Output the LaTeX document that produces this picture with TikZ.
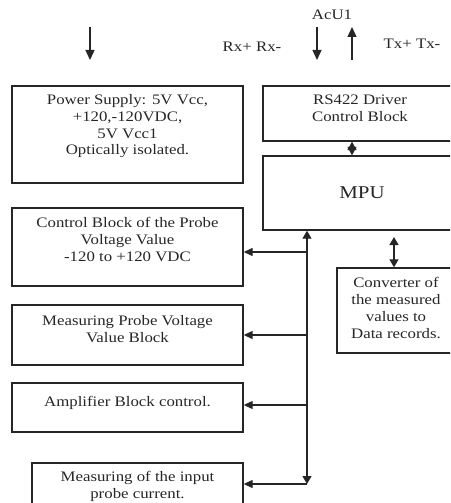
\documentclass[tikz,border=0pt]{standalone}
\usepackage{fontspec}
\setmainfont[FakeStretch=1.16]{Liberation Serif}
\usetikzlibrary{arrows.meta}
\definecolor{ink}{HTML}{262626}
\begin{document}
\begin{tikzpicture}[x=1pt,y=-1pt,
  blk/.style={draw=ink, line width=1.4pt, rectangle, inner sep=0pt},
  txt/.style={text=ink, align=center, inner sep=0pt, anchor=north,
    font=\fontsize{14.5}{16.7}\selectfont},
  lbl/.style={text=ink, inner sep=0pt, font=\fontsize{14.5}{16.7}\selectfont},
  wire/.style={draw=ink, line width=1.3pt},
  tip/.style={-{Triangle[length=9pt,width=8pt]}},
  bigtip/.style={-{Triangle[length=10pt,width=9pt]}},
  dtip/.style={{Triangle[length=8pt,width=9pt]}-{Triangle[length=8pt,width=9pt]}},
  knot/.style={{Triangle[length=8.5pt,width=9pt]}-{Triangle[length=8.5pt,width=9pt]}}
]
\path[use as bounding box] (0,0) rectangle (450,503);
\clip (0,0) rectangle (450,503);

% blocks
\node[blk, minimum width=231pt, minimum height=97pt] (ps)   at (127.5,134.5) {};
\node[blk, minimum width=194pt, minimum height=55pt] (rs)   at (360,113.5) {};
\node[blk, minimum width=198pt, minimum height=74pt] (mpu)  at (362,193) {};
\node[blk, minimum width=231pt, minimum height=78pt] (cb)   at (127.5,247) {};
\node[blk, minimum width=118pt, minimum height=85pt] (conv) at (396,310.5) {};
\node[blk, minimum width=231pt, minimum height=60pt] (mpv)  at (127.5,335) {};
\node[blk, minimum width=231pt, minimum height=49pt] (amp)  at (127.5,407.5) {};
\node[blk, minimum width=211pt, minimum height=52pt] (mic)  at (137.5,489) {};

% block texts
\node[txt] (ps-t) at (127.5,94.5) {Power Supply: 5V Vcc,\\+120,-120VDC,\\5V Vcc1\\Optically isolated.};
\node[txt] (rs-t) at (360,94.5) {RS422 Driver\\Control Block};
\node[text=ink, inner sep=0pt, font=\fontsize{18}{20}\selectfont] (mpu-t) at (362,193) {MPU};
\node[txt] (cb-t) at (127.5,217.5) {Control Block of the Probe\\Voltage Value\\-120 to +120 VDC};
\node[txt] (conv-t) at (396,277.5) {Converter of\\the measured\\values to\\Data records.};
\node[txt] (mpv-t) at (127.5,315.5) {Measuring Probe Voltage\\Value Block};
\node[txt] (amp-t) at (127.5,396.5) {Amplifier Block control.};
\node[txt] (mic-t) at (137.5,471.5) {Measuring of the input\\probe current.};

% external signals
\node[lbl] (acu) at (332,15) {AcU1};
\node[lbl] (rx) at (252,47) {Rx+ Rx-};
\node[lbl] (tx) at (412,44) {Tx+ Tx-};
\coordinate (pin-a) at (90,27);
\coordinate (pin-b) at (90,60);
\coordinate (rx-a) at (317,27);
\coordinate (rx-b) at (317,60);
\coordinate (tx-a) at (352,60);
\coordinate (tx-b) at (352,27);
\draw[wire, bigtip] (pin-a) -- (pin-b);
\draw[wire, bigtip] (rx-a) -- (rx-b);
\draw[wire, bigtip] (tx-a) -- (tx-b);

% driver <-> MPU
\draw[wire, knot] (rs.south -| 352,0) -- (mpu.north -| 352,0);

% bus from MPU to the measuring blocks
\coordinate (bus-top) at (mpu.south -| 307,0);
\coordinate (bus-end) at (307,484);
\coordinate (b1) at (307,252);
\coordinate (b2) at (307,335);
\coordinate (b3) at (307,405);
\draw[wire, dtip] (bus-top) -- (bus-end);
\draw[wire, tip] (b1) -- (b1 -| cb.east);
\draw[wire, tip] (b2) -- (b2 -| mpv.east);
\draw[wire, tip] (b3) -- (b3 -| amp.east);
\draw[wire, tip] (bus-end) -- (bus-end -| mic.east);

% MPU <-> converter
\coordinate (cv-top) at (394,237);
\draw[wire, dtip] (cv-top) -- (conv.north -| cv-top);
\end{tikzpicture}
\end{document}
